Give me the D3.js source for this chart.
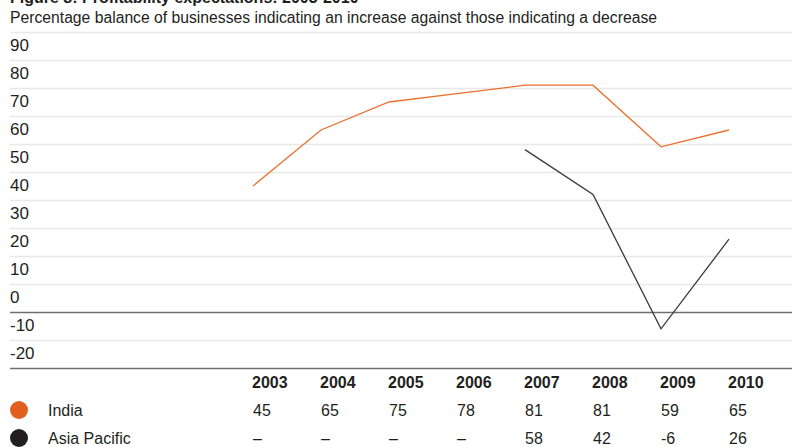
<!DOCTYPE html>
<html>
<head>
<meta charset="utf-8">
<script src="https://cdn.jsdelivr.net/npm/d3@7"></script>
<style>
  body { margin: 0; background: #fff; }
  svg { display: block; }
  text { font-family: "Liberation Sans", Arial, sans-serif; fill: #231f20; }
</style>
</head>
<body>
<div id="chart"></div>
<script>
const years = [2003, 2004, 2005, 2006, 2007, 2008, 2009, 2010];
const india = [45, 65, 75, 78, 81, 81, 59, 65];
const asiaPacific = [null, null, null, null, 58, 42, -6, 26];
const yTicks = [90, 80, 70, 60, 50, 40, 30, 20, 10, 0, -10, -20];
const seriesNames = ["India", "Asia Pacific"];
const seriesColors = ["#e2601f", "#231f20"];

const width = 797, height = 447;

const svg = d3.select("#chart").append("svg")
  .attr("width", width)
  .attr("height", height);

const x = d3.scalePoint()
  .domain(years)
  .range([253, 729]);

const y = d3.scaleLinear()
  .domain([-20, 100])
  .range([368, 32]);

// title (cut off at the top, as in the source) and subtitle
svg.append("text")
  .attr("x", 10).attr("y", 3)
  .style("font-size", "16px")
  .style("font-weight", "bold")
  .text("Figure 8: Profitability expectations: 2003-2010");

svg.append("text")
  .attr("x", 10).attr("y", 23)
  .style("font-size", "15.8px")
  .attr("textLength", 647)
  .attr("lengthAdjust", "spacingAndGlyphs")
  .text("Percentage balance of businesses indicating an increase against those indicating a decrease");

// grid lines
const gridVals = [100].concat(yTicks);
svg.append("g")
  .selectAll("line")
  .data(gridVals)
  .enter()
  .append("line")
  .attr("x1", 10)
  .attr("x2", 792)
  .attr("y1", d => Math.round(y(d)) + 0.5)
  .attr("y2", d => Math.round(y(d)) + 0.5)
  .attr("stroke", d => (d === 0 || d === -20) ? "#6e6e6e" : "#e8e8e8")
  .attr("stroke-width", 1.6);

// y labels sit above their line
svg.append("g")
  .selectAll("text")
  .data(yTicks)
  .enter()
  .append("text")
  .attr("x", 10)
  .attr("y", d => y(d) - 9)
  .style("font-size", "17px")
  .text(d => d);

// lines
const line = d3.line()
  .defined(d => d.v !== null)
  .x(d => x(d.year))
  .y(d => y(d.v));

const series = [india, asiaPacific];
svg.append("g")
  .selectAll("path")
  .data(series)
  .enter()
  .append("path")
  .attr("fill", "none")
  .attr("stroke", (d, i) => i === 0 ? "#e8702f" : "#3a3a3a")
  .attr("stroke-width", 1.3)
  .attr("d", d => line(d.map((v, j) => ({ year: years[j], v: v }))));

// table header
svg.append("g")
  .selectAll("text")
  .data(years)
  .enter()
  .append("text")
  .attr("x", d => x(d) - 1)
  .attr("y", 388)
  .style("font-size", "16px")
  .style("font-weight", "bold")
  .text(d => d);

// table rows
const rowY = [416, 444];
series.forEach((vals, i) => {
  const row = svg.append("g");
  row.append("circle")
    .attr("cx", 19)
    .attr("cy", rowY[i] - 6)
    .attr("r", 9)
    .attr("fill", seriesColors[i]);
  row.append("text")
    .attr("x", 48)
    .attr("y", rowY[i])
    .style("font-size", "16px")
    .text(seriesNames[i]);
  row.selectAll("text.val")
    .data(vals)
    .enter()
    .append("text")
    .attr("class", "val")
    .attr("x", (d, j) => x(years[j]))
    .attr("y", rowY[i])
    .style("font-size", "16px")
    .text(d => d === null ? "–" : d);
});
</script>
</body>
</html>
